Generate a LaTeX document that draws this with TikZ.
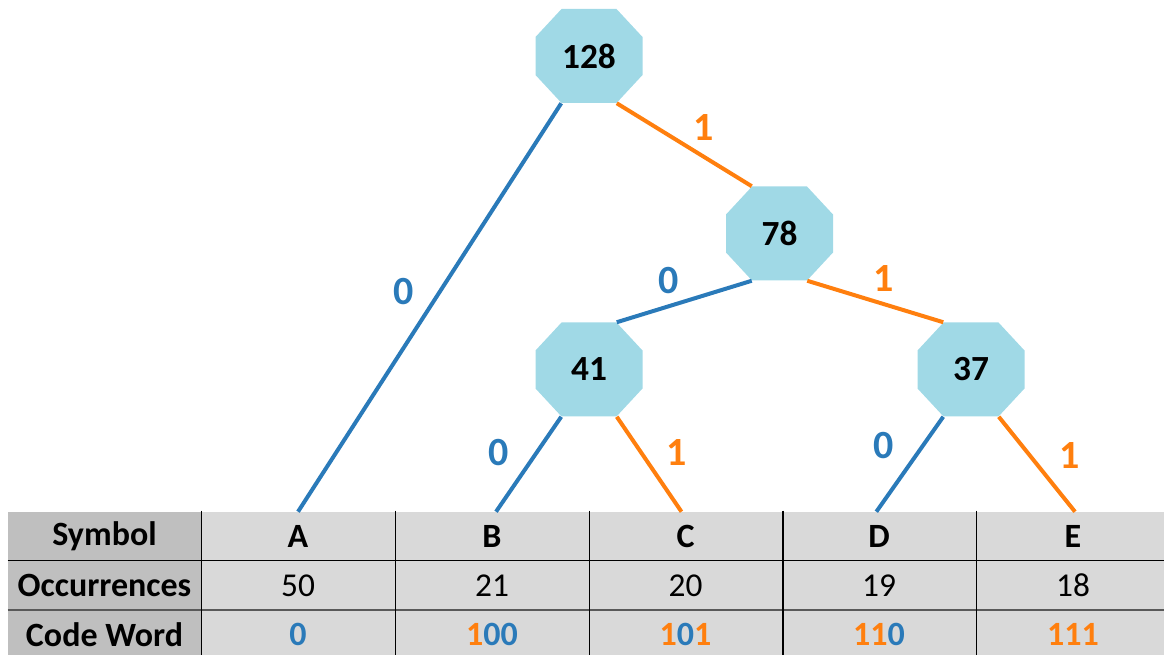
\documentclass[tikz,border=0pt]{standalone}
\usepackage{fontspec}
\setmainfont{Carlito}
\usetikzlibrary{calc}
\definecolor{eblue}{HTML}{2A7AB9}
\definecolor{eorange}{HTML}{FF7F0E}
\definecolor{octfill}{HTML}{A0D9E6}
\definecolor{hdrgray}{HTML}{BFBFBF}
\definecolor{cellgray}{HTML}{D9D9D9}
\definecolor{rulegray}{HTML}{595959}
\begin{document}
\begin{tikzpicture}[x=0.75pt,y=-0.75pt,
  oct/.style={inner sep=0pt, minimum width=80.25pt, minimum height=70.5pt,
    font=\fontsize{26.5}{30}\selectfont\bfseries,
    path picture={\fill[octfill]
      ([xshift=19.5pt]path picture bounding box.north west) --
      ([xshift=-19.5pt]path picture bounding box.north east) --
      ([yshift=-21pt]path picture bounding box.north east) --
      ([yshift=21pt]path picture bounding box.south east) --
      ([xshift=-19.5pt]path picture bounding box.south east) --
      ([xshift=19.5pt]path picture bounding box.south west) --
      ([yshift=21pt]path picture bounding box.south west) --
      ([yshift=-21pt]path picture bounding box.north west) -- cycle;}},
  cell/.style={fill=cellgray, minimum width=145.5pt, minimum height=36.75pt, inner sep=0pt,
    font=\fontsize{25}{28}\selectfont},
  hdr/.style={cell, fill=hdrgray, minimum width=144.75pt, font=\fontsize{25.5}{28}\selectfont\bfseries},
  bcell/.style={cell, font=\fontsize{25.5}{28}\selectfont\bfseries},
  zero/.style={line width=3pt, draw=eblue},
  one/.style={line width=3pt, draw=eorange},
  zlab/.style={text=eblue, font=\fontsize{30}{34}\selectfont\bfseries, inner sep=0pt},
  olab/.style={text=eorange, font=\fontsize{30}{34}\selectfont\bfseries, inner sep=0pt},
  vrule/.style={line width=1.1pt, draw=black},
]
\useasboundingbox (0,0) rectangle (1164,655);
\clip (0,0) rectangle (1164,655);

% table cells
\node[hdr] (hSym) at (104.5,536.5) {Symbol};
\node[hdr] (hOcc) at (104.5,585.5) {Occurrences};
\node[hdr] (hCode) at (104.5,634.5) {Code Word};

\node[bcell] (sA) at (298,536.5) {A};
\node[bcell] (sB) at (492,536.5) {B};
\node[bcell] (sC) at (685.5,536.5) {C};
\node[bcell] (sD) at (879,536.5) {D};
\node[bcell] (sE) at (1073,536.5) {E};

\node[cell] (oA) at (298,585.5) {50};
\node[cell] (oB) at (492,585.5) {21};
\node[cell] (oC) at (685.5,585.5) {20};
\node[cell] (oD) at (879,585.5) {19};
\node[cell] (oE) at (1073,585.5) {18};

\node[bcell] (cA) at (298,634.5) {\textcolor{eblue}{0}};
\node[bcell] (cB) at (492,634.5) {\textcolor{eorange}{1}\textcolor{eblue}{00}};
\node[bcell] (cC) at (685.5,634.5) {\textcolor{eorange}{1}\textcolor{eblue}{0}\textcolor{eorange}{1}};
\node[bcell] (cD) at (879,634.5) {\textcolor{eorange}{11}\textcolor{eblue}{0}};
\node[bcell] (cE) at (1073,634.5) {\textcolor{eorange}{111}};

% table rules
\draw[line width=1.1pt, black] (hOcc.north west) -- (oE.north east);
\draw[line width=1.5pt, rulegray] (hCode.north west) -- (cE.north east);
\foreach \n in {hSym, sA, sB, sC, sD}
  \draw[vrule] ([yshift=0.75pt]\n.north east) -- ++(0,150);

% tree nodes
\node[oct] (n128) at (589,56) {128};
\node[oct] (n78) at (779.5,233.5) {78};
\node[oct] (n41) at (589,369.5) {41};
\node[oct] (n37) at (971,369.5) {37};

% connectors
\draw[zero] ($(n128.south west)+(26,0)$) -- (sA.north);
\draw[one] ($(n128.south east)+(-26,0)$) -- ($(n78.north west)+(26,0)$);
\draw[zero] ($(n78.south west)+(26,0)$) -- ($(n41.north east)+(-26,0)$);
\draw[one] ($(n78.south east)+(-26,0)$) -- ($(n37.north west)+(26,0)$);
\draw[zero] ($(n41.south west)+(26,0)$) -- ([xshift=3pt]sB.north);
\draw[one] ($(n41.south east)+(-26,0)$) -- ([xshift=-3pt]sC.north);
\draw[zero] ($(n37.south west)+(26,0)$) -- ([xshift=-2pt]sD.north);
\draw[one] ($(n37.south east)+(-26,0)$) -- ([xshift=1.5pt]sE.north);

% edge labels
\node[olab] (l1) at (704,128) {1};
\node[zlab] (l2) at (404,292) {0};
\node[zlab] (l3) at (669,281) {0};
\node[olab] (l4) at (884,279) {1};
\node[zlab] (l5) at (499,453) {0};
\node[olab] (l6) at (677,453) {1};
\node[zlab] (l7) at (884,446) {0};
\node[olab] (l8) at (1070,456) {1};
\end{tikzpicture}
\end{document}
